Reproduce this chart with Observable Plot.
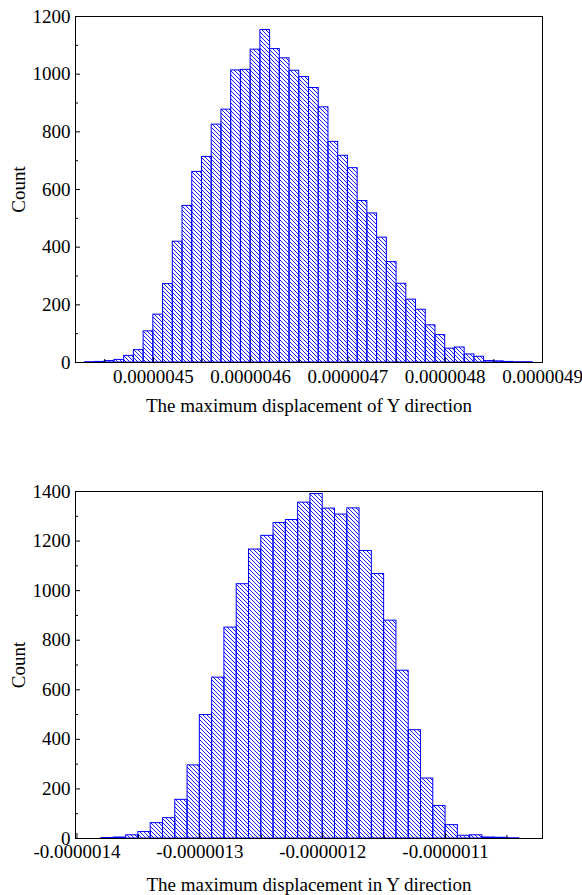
<!DOCTYPE html>
<html><head><meta charset="utf-8">
<script src="https://cdn.jsdelivr.net/npm/d3@7"></script>
<script src="https://cdn.jsdelivr.net/npm/@observablehq/plot@0.6"></script>
<style>
body{margin:0;background:#fff;font-family:"Liberation Serif",serif;}
#chart{width:582px;}
#chart svg{display:block;}
#chart svg text{font-family:"Liberation Serif",serif !important;}
</style></head><body>
<svg width="0" height="0" style="position:absolute">
<defs><pattern id="hatch" patternUnits="userSpaceOnUse" width="4" height="4">
<path d="M-1,-1L5,5M-1,3L1,5M3,-1L5,1" stroke="#0000ff" stroke-width="0.9"/></pattern></defs></svg>
<div id="chart"></div>
<script>
// Top histogram: maximum displacement of Y direction
const topBinStart = 4.43e-6;
const topBinWidth = 1e-8;
const topCounts = [1, 2, 5, 9, 23, 43, 108, 166, 272, 419, 543, 661, 713, 825, 877, 1013, 1015, 1085, 1153, 1087, 1055, 1012, 990, 952, 885, 765, 717, 674, 560, 517, 433, 348, 273, 218, 183, 129, 95, 48, 52, 28, 20, 5, 4, 2, 1, 1];
const topXDomain = [4.42e-6, 4.90e-6];
const topXTicks = [4.5e-6, 4.6e-6, 4.7e-6, 4.8e-6, 4.9e-6];
const topXMinor = [4.45e-6, 4.55e-6, 4.65e-6, 4.75e-6, 4.85e-6];
const topYTicks = [0, 200, 400, 600, 800, 1000, 1200];
const topYMinor = [100, 300, 500, 700, 900, 1100];
const topXLabel = "The maximum displacement of Y direction";

// Bottom histogram: maximum displacement in Y direction
const botBinStart = -1.38e-6;
const botBinWidth = 1e-8;
const botCounts = [2, 4, 13, 26, 62, 82, 156, 295, 498, 649, 851, 1026, 1166, 1221, 1273, 1285, 1355, 1390, 1331, 1307, 1332, 1160, 1067, 879, 677, 437, 242, 131, 54, 11, 13, 4, 3, 1];
const botXDomain = [-1.4012e-6, -1.0211e-6];
const botXTicks = [-1.4e-6, -1.3e-6, -1.2e-6, -1.1e-6];
const botXMinor = [-1.35e-6, -1.25e-6, -1.15e-6, -1.05e-6];
const botYTicks = [0, 200, 400, 600, 800, 1000, 1200, 1400];
const botYMinor = [100, 300, 500, 700, 900, 1100, 1300];
const botXLabel = "The maximum displacement in Y direction";

const yLabel = "Count";

function bins(start, width, counts) {
  return counts.map((c, i) => ({x1: start + i * width, x2: start + (i + 1) * width, count: c}));
}

function histogram({data, xDomain, xTicks, xMinor, yDomain, yTicks, yMinor, xLabel, height, marginTop, marginBottom, xPad, xLabelOffset}) {
  const marginLeft = 75, marginRight = 40, width = 582;
  const pw = width - marginLeft - marginRight;
  const ph = height - marginTop - marginBottom;
  return Plot.plot({
    width, height, marginLeft, marginRight, marginTop, marginBottom,
    style: {fontFamily: "Liberation Serif, serif", fontSize: "19px", color: "black", background: "white", overflow: "visible"},
    x: {domain: xDomain},
    y: {domain: yDomain},
    marks: [
      Plot.rectY(data, {x1: "x1", x2: "x2", y: "count", fill: "url(#hatch)", stroke: "#0000ff", strokeWidth: 1}),
      Plot.tickY(yTicks, {y: d => d, insetRight: pw - 5, stroke: "black"}),
      Plot.tickY(yMinor, {y: d => d, insetRight: pw - 3, stroke: "black"}),
      Plot.tickX(xTicks, {x: d => d, insetTop: ph - 5, stroke: "black"}),
      Plot.tickX(xMinor, {x: d => d, insetTop: ph - 3, stroke: "black"}),
      Plot.frame({stroke: "black", strokeWidth: 1}),
      Plot.axisY({ticks: yTicks, tickSize: 0, tickPadding: 5, tickFormat: d => String(d), label: yLabel, labelAnchor: "center", labelArrow: "none", labelOffset: 64}),
      Plot.axisX({ticks: xTicks, tickSize: 0, tickPadding: xPad, tickFormat: d => d.toFixed(7), label: xLabel, labelAnchor: "center", labelArrow: "none", labelOffset: xLabelOffset})
    ]
  });
}

const chart = document.getElementById("chart");
chart.append(histogram({
  data: bins(topBinStart, topBinWidth, topCounts),
  xDomain: topXDomain, xTicks: topXTicks, xMinor: topXMinor,
  yDomain: [0, 1200], yTicks: topYTicks, yMinor: topYMinor,
  xLabel: topXLabel, height: 440, marginTop: 16, marginBottom: 78, xPad: 7, xLabelOffset: 49
}));
chart.append(histogram({
  data: bins(botBinStart, botBinWidth, botCounts),
  xDomain: botXDomain, xTicks: botXTicks, xMinor: botXMinor,
  yDomain: [0, 1400], yTicks: botYTicks, yMinor: botYMinor,
  xLabel: botXLabel, height: 455, marginTop: 51, marginBottom: 57, xPad: 6, xLabelOffset: 52
}));
</script>
</body></html>
